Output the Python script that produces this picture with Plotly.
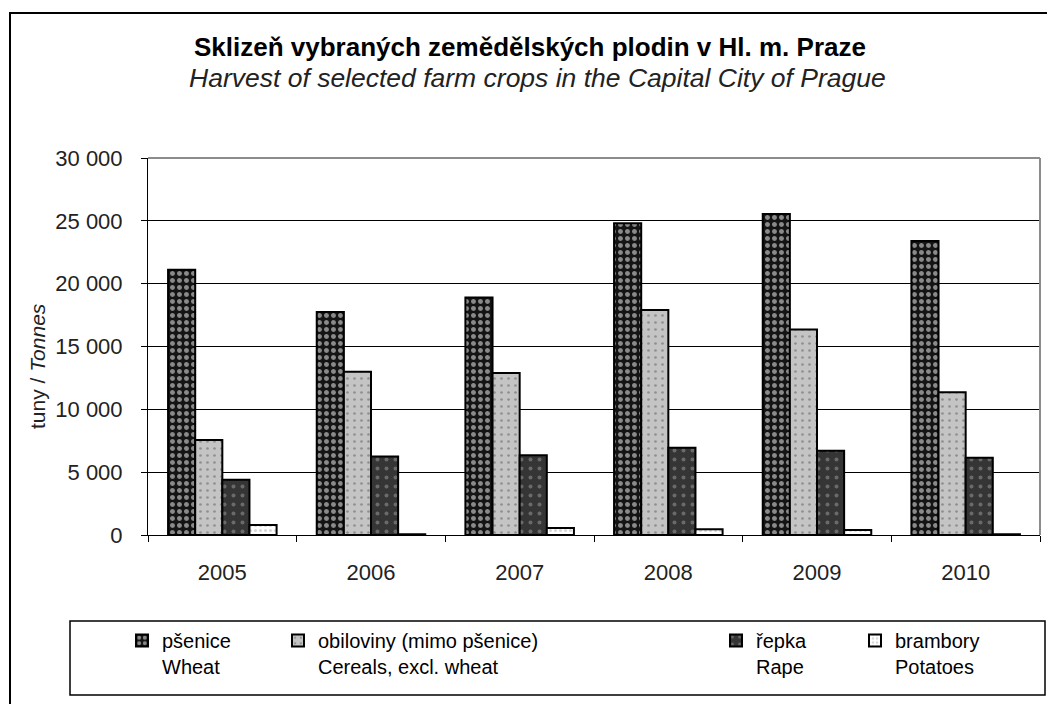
import plotly.graph_objects as go

# values (tonnes)
years = ["2005", "2006", "2007", "2008", "2009", "2010"]
wheat = [21100, 17750, 18900, 24800, 25550, 23400]
cereals = [7550, 13000, 12900, 17900, 16350, 11350]
rape = [4400, 6250, 6350, 6950, 6700, 6150]
potatoes = [800, 60, 550, 450, 400, 60]

names = ["pšenice<br>Wheat", "obiloviny (mimo pšenice)<br>Cereals, excl. wheat",
         "řepka<br>Rape", "brambory<br>Potatoes"]

FONT = "Liberation Sans"
OFF = 8  # page body margin
W, H = 1055 - OFF, 704 - OFF
L, R, T, B = 140, 15, 150, 169
pw, ph = W - L - R, H - T - B


# reference pixel -> paper coords
def px(x):
    return (x - OFF - L) / pw


def py(y):
    return (H - B - (y - OFF)) / ph


styles = [
    dict(bg="#141414", fg="#ffffff", size=7, sol=0.4),
    dict(bg="#c4c4c4", fg="#5a5a5a", size=7, sol=0.12),
    dict(bg="#353535", fg="#a0a0a0", size=9, sol=0.15),
    dict(bg="#ffffff", fg="#b0b0b0", size=5, sol=0.3),
]

fig = go.Figure()
for i, (vals, name, st) in enumerate(zip([wheat, cereals, rape, potatoes], names, styles)):
    fig.add_trace(go.Bar(
        x=years, y=vals, name=name, showlegend=True,
        legend="legend" if i == 0 else "legend%d" % (i + 1),
        marker=dict(color=st["bg"], line=dict(color="black", width=2),
                    pattern=dict(shape=".", bgcolor=st["bg"], fgcolor=st["fg"],
                                 size=st["size"], solidity=st["sol"])),
    ))

leg_x = [122, 278, 716, 855]
legfont = dict(family=FONT, size=20, color="black")
legends = {}
for i, lx in enumerate(leg_x):
    key = "legend" if i == 0 else "legend%d" % (i + 1)
    legends[key] = dict(x=px(lx), xanchor="left", y=py(621), yanchor="top",
                        font=legfont, bgcolor="rgba(0,0,0,0)", valign="top")

fig.update_layout(
    width=W, height=H,
    margin=dict(l=L, r=R, t=T, b=B),
    paper_bgcolor="white", plot_bgcolor="white",
    barmode="group", bargap=0.27, bargroupgap=0,
    separators=", ", showlegend=True,
    font=dict(family=FONT, color="#222"),
    **legends,
)

fig.update_yaxes(range=[0, 30000], dtick=5000, tickformat=",d",
                 showline=True, linecolor="black", linewidth=1,
                 ticks="outside", ticklen=6, tickcolor="black",
                 ticklabelstandoff=14,
                 showgrid=True, gridcolor="black", gridwidth=1,
                 zeroline=False, tickfont=dict(family=FONT, size=22, color="#222"))
fig.update_xaxes(showline=True, linecolor="black", linewidth=1,
                 ticks="outside", ticklen=6, tickcolor="black", tickson="boundaries",
                 ticklabelstandoff=18,
                 tickfont=dict(family=FONT, size=22, color="#222"))

# frames
fig.add_shape(type="line", xref="paper", yref="paper", x0=0, x1=1, y0=1, y1=1,
              line=dict(color="#8c8c8c", width=2), layer="above")
fig.add_shape(type="line", xref="paper", yref="paper", x0=1, x1=1, y0=0, y1=1,
              line=dict(color="#8c8c8c", width=2), layer="above")
fig.add_shape(type="rect", xref="paper", yref="paper",
              x0=px(70), x1=px(1045), y0=py(621), y1=py(695),
              line=dict(color="black", width=1.5))
fig.add_shape(type="rect", xref="paper", yref="paper",
              x0=px(10), x1=px(1080), y0=py(13), y1=py(730),
              line=dict(color="black", width=2))

fig.add_annotation(text="<b>Sklizeň vybraných zemědělských plodin v Hl. m. Praze</b>",
                   xref="paper", yref="paper", x=px(530), y=py(47), showarrow=False,
                   xanchor="center", yanchor="middle",
                   font=dict(family=FONT, size=26, color="black"))
fig.add_annotation(text="<i>Harvest of selected farm crops in the Capital City of Prague</i>",
                   xref="paper", yref="paper", x=px(537), y=py(78), showarrow=False,
                   xanchor="center", yanchor="middle",
                   font=dict(family=FONT, size=26.5, color="#222"))
fig.add_annotation(text="tuny / <i>Tonnes</i>", textangle=-90,
                   xref="paper", yref="paper", x=px(37), y=py(366), showarrow=False,
                   xanchor="center", yanchor="middle",
                   font=dict(family=FONT, size=21, color="#222"))

fig.write_html("out.html")
